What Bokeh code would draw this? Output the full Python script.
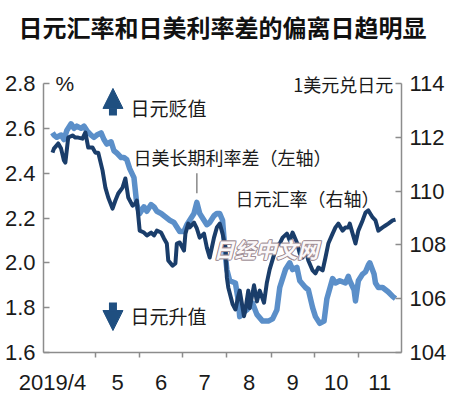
from bokeh.plotting import figure
from bokeh.models import (Range1d, LinearAxis, FixedTicker, PrintfTickFormatter,
                          Label, Arrow, NormalHead, Title)
from bokeh.embed import file_html
from bokeh.resources import INLINE

# ---- data (x = days since 2019-04-01) ----
spread_days = [0, 1, 3, 6, 8, 10, 13, 15, 17, 20, 22, 24, 27, 29, 31, 34, 36, 38, 41, 43,
               45, 48, 50, 52, 54, 57, 58, 59, 61, 64, 66, 69, 71, 73, 76, 78, 80, 82, 85, 87,
               89, 92, 94, 96, 99, 101, 103, 106, 108, 110, 113, 115, 117, 119, 121, 122, 124,
               128, 130, 131, 134, 136, 140, 143, 147, 151, 154, 157, 159, 163, 166, 168, 171,
               173, 177, 179, 182, 184, 187, 190, 192, 196, 198, 201, 205, 207, 208, 211, 212,
               214, 217, 219, 221, 222, 225, 226, 228, 231, 233, 235, 238, 240]
spread_pct = [2.58, 2.57, 2.56, 2.57, 2.55, 2.59, 2.62, 2.60, 2.61, 2.60, 2.61, 2.59, 2.57,
              2.56, 2.57, 2.58, 2.55, 2.53, 2.54, 2.50, 2.49, 2.47, 2.47, 2.46, 2.42, 2.38,
              2.32, 2.26, 2.22, 2.25, 2.23, 2.26, 2.25, 2.23, 2.22, 2.21, 2.20, 2.19, 2.18,
              2.16, 2.14, 2.14, 2.17, 2.19, 2.22, 2.27, 2.22, 2.19, 2.17, 2.18, 2.21, 2.22,
              2.22, 2.19, 2.03, 1.97, 1.92, 1.91, 1.83, 1.76, 1.78, 1.79, 1.82, 1.77, 1.74,
              1.74, 1.75, 1.79, 1.89, 1.97, 2.00, 1.97, 1.98, 1.92, 1.89, 1.88, 1.80, 1.76,
              1.73, 1.74, 1.84, 1.93, 1.91, 1.92, 1.91, 1.94, 1.92, 1.88, 1.83, 1.92, 1.95,
              1.96, 1.99, 2.00, 1.95, 1.91, 1.89, 1.89, 1.88, 1.87, 1.85, 1.84]

yen_days = [0, 1, 4, 6, 8, 9, 11, 14, 16, 18, 21, 23, 25, 28, 30, 32, 35, 37, 39, 42, 44,
            46, 49, 51, 53, 56, 58, 59, 61, 64, 66, 69, 71, 73, 76, 78, 80, 81, 84, 86, 87,
            89, 92, 93, 95, 96, 99, 101, 103, 106, 108, 110, 113, 115, 117, 119, 121, 122,
            123, 126, 128, 130, 131, 134, 135, 137, 138, 141, 143, 145, 148, 150, 152, 154,
            157, 159, 161, 164, 166, 168, 171, 173, 175, 177, 179, 182, 184, 186, 189, 191,
            193, 196, 198, 200, 203, 205, 207, 208, 210, 212, 214, 217, 219, 221, 224, 226,
            228, 231, 233, 235, 238, 240]
yen_rate = [111.43, 111.58, 111.77, 111.58, 111.14, 111.06, 111.99, 112.07, 111.99, 111.99,
            111.95, 112.18, 111.62, 111.62, 111.43, 111.43, 110.77, 110.13, 109.76, 109.35,
            109.65, 109.91, 110.13, 110.47, 109.76, 109.46, 109.54, 109.65, 108.53, 108.46,
            108.35, 108.46, 108.35, 108.53, 108.46, 108.24, 108.05, 107.42, 107.23, 107.31,
            108.05, 108.09, 107.79, 108.42, 108.79, 108.65, 108.83, 108.61, 108.27, 108.42,
            107.90, 107.53, 108.27, 108.65, 108.79, 108.42, 107.90, 106.79, 106.42, 105.80,
            105.60, 106.10, 106.30, 105.35, 105.60, 106.30, 105.65, 106.50, 105.90, 106.30,
            105.85, 106.60, 107.10, 107.45, 107.98, 108.05, 108.27, 108.42, 108.16, 108.46,
            108.09, 107.68, 107.53, 107.87, 107.42, 107.05, 106.94, 107.16, 107.05, 107.53,
            108.05, 108.42, 108.65, 108.79, 108.53, 108.65, 108.65, 108.79, 108.42, 108.05,
            108.53, 108.91, 109.20, 109.28, 109.02, 108.91, 108.53, 108.65, 108.72, 108.79,
            108.91, 108.94]

month_starts = [0, 30, 61, 91, 122, 153, 183, 214, 244]   # Apr 1 ... Dec 1
month_labels = ["2019/4", "5", "6", "7", "8", "9", "10", "11"]
left_ticks = [1.6, 1.8, 2.0, 2.2, 2.4, 2.6, 2.8]
right_ticks = [104, 106, 108, 110, 112, 114]

LIGHT = "#5b8fc9"
DARK = "#1a3d6a"
ARROW = "#1f4f80"
AXIS = "#8c8c8c"
NUM_FONT = "Liberation Sans"
CJK = "Noto Sans CJK SC"

TOP_EXTRA = 31.0 / 269.0   # room above the top tick for the unit texts
l_span = left_ticks[-1] - left_ticks[0]
r_span = right_ticks[-1] - right_ticks[0]

p = figure(width=450, height=398, output_backend="svg", toolbar_location=None,
           x_range=Range1d(-6.3, 244.2),
           y_range=Range1d(left_ticks[0], left_ticks[-1] + TOP_EXTRA * l_span),
           min_border_left=43, min_border_right=49, min_border_top=52, min_border_bottom=46)
p.outline_line_color = None
p.xgrid.visible = False
p.ygrid.visible = False
p.background_fill_color = "white"
p.border_fill_color = "white"

p.title = Title(text="日元汇率和日美利率差的偏离日趋明显", align="center",
                vertical_align="top",
                text_font=CJK, text_font_size="24px", text_font_style="bold",
                text_color="#111111", standoff=13)

p.extra_y_ranges = {"yen": Range1d(right_ticks[0], right_ticks[-1] + TOP_EXTRA * r_span)}

# lines
p.line(spread_days, spread_pct, color=LIGHT, line_width=5.5, line_join="round")
p.line(yen_days, yen_rate, color=DARK, line_width=4, line_join="round", y_range_name="yen")

# x axis
label_pos = [float(month_starts[0])] + [(month_starts[i] + month_starts[i + 1]) / 2
                                        for i in range(1, len(month_labels))]
xa = p.xaxis[0]
xa.ticker = FixedTicker(ticks=label_pos, minor_ticks=month_starts[1:-1])
xa.major_label_overrides = {t: lab for t, lab in zip(label_pos, month_labels)}
xa.major_tick_in = 0
xa.major_tick_out = 0
xa.minor_tick_in = 0
xa.minor_tick_out = 5
xa.minor_tick_line_color = AXIS
xa.minor_tick_line_width = 1.5
xa.major_label_standoff = 12

# left axis
ya = p.yaxis[0]
ya.ticker = FixedTicker(ticks=left_ticks)
ya.formatter = PrintfTickFormatter(format="%.1f")
ya.bounds = (left_ticks[0], left_ticks[-1])
ya.major_tick_in = 6
ya.major_tick_out = 0
ya.minor_tick_line_color = None
ya.major_label_standoff = 8

ra = LinearAxis(y_range_name="yen", ticker=FixedTicker(ticks=right_ticks),
                bounds=(right_ticks[0], right_ticks[-1]))
ra.major_tick_in = 6
ra.major_tick_out = 0
ra.minor_tick_line_color = None
ra.major_label_standoff = 8
p.add_layout(ra, "right")

for ax in (xa, ya, ra):
    ax.axis_line_color = AXIS
    ax.axis_line_width = 1.5
    ax.major_tick_line_color = AXIS
    ax.major_tick_line_width = 1.5
    ax.major_label_text_font = NUM_FONT
    ax.major_label_text_font_size = "22px"
    ax.major_label_text_color = "#1a1a1a"

# annotations
def lab(x, y, text, size="18px", align="left", font=CJK, color="#1a1a1a", **kw):
    p.add_layout(Label(x=x, y=y, text=text, text_font=font, text_font_size=size,
                       text_align=align, text_baseline="middle", text_color=color, **kw))

lab(2.1, 2.8, "%", size="21px", font=NUM_FONT)
lab(238.5, 2.8, "1美元兑日元", size="18px", align="right")
lab(54.5, 2.693, "日元贬值", size="19px")
lab(54.5, 1.765, "日元升值", size="19px")
lab(56.6, 2.47, "日美长期利率差（左轴）", size="18px")
lab(128, 2.287, "日元汇率（右轴）", size="18px")

p.add_layout(Arrow(end=NormalHead(size=20, fill_color=ARROW, line_color=ARROW),
                   x_start=42.3, y_start=2.657, x_end=42.3, y_end=2.778,
                   line_color=ARROW, line_width=8))
p.add_layout(Arrow(end=NormalHead(size=20, fill_color=ARROW, line_color=ARROW),
                   x_start=42.3, y_start=1.823, x_end=42.3, y_end=1.698,
                   line_color=ARROW, line_width=8))

# leader line to the July peak of the spread
jul = [i for i, d in enumerate(spread_days) if 91 <= d < 122]
pk = max(jul, key=lambda i: spread_pct[i])
p.segment(x0=[spread_days[pk]], y0=[2.40], x1=[spread_days[pk]], y1=[spread_pct[pk] + 0.04],
          line_color="#888888", line_width=1.5)

# watermark
for dx, dy in [(-1, 0), (1, 0), (0, -1), (0, 1), (1, 1), (-1, -1)]:
    lab(112.6, 2.06, "日经中文网", size="21px", color="#a08e95", x_offset=dx, y_offset=dy,
        text_font_style="bold italic")
lab(112.6, 2.06, "日经中文网", size="21px", color="#fbf8f9", text_font_style="bold italic")

open("out.html", "w").write(file_html(p, INLINE))
